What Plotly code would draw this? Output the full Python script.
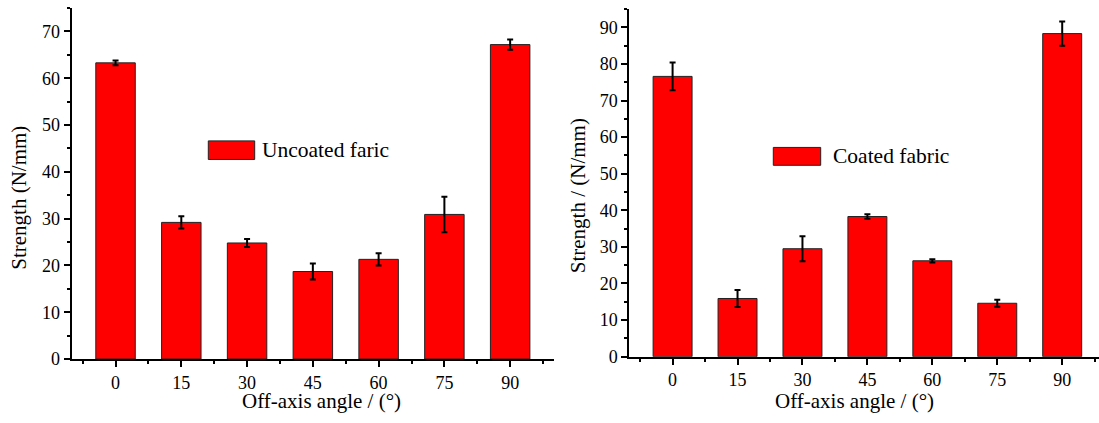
import plotly.graph_objects as go

# ---- data ----
angles = [0, 15, 30, 45, 60, 75, 90]
uncoated_strength = [63.3, 29.2, 24.8, 18.7, 21.3, 30.9, 67.2]
uncoated_err = [0.5, 1.3, 0.85, 1.7, 1.3, 3.8, 1.1]
coated_strength = [76.6, 15.9, 29.5, 38.3, 26.2, 14.6, 88.3]
coated_err = [3.8, 2.3, 3.4, 0.6, 0.45, 0.95, 3.3]
tick_labels = ["0", "15", "30", "45", "60", "75", "90"]
legend_left = "Uncoated faric"
legend_right = "Coated fabric"

W, H = 1099, 423
FONT = "Liberation Serif, Times New Roman, serif"


def px(x):
    return x / W


def py(y):
    return 1 - y / H


fig = go.Figure()

err_style = dict(type="data", thickness=2, width=3, color="black")

fig.add_trace(go.Bar(
    x=angles, y=uncoated_strength, width=9,
    error_y=dict(array=uncoated_err, **err_style),
    marker=dict(color="#FF0000", line=dict(color="#222222", width=1)),
    xaxis="x", yaxis="y", showlegend=False,
))
fig.add_trace(go.Bar(
    x=angles, y=coated_strength, width=9,
    error_y=dict(array=coated_err, **err_style),
    marker=dict(color="#FF0000", line=dict(color="#222222", width=1)),
    xaxis="x2", yaxis="y2", showlegend=False,
))

common_x = dict(
    tickmode="array", tickvals=angles, ticktext=tick_labels,
    ticks="outside", ticklen=6, tickwidth=2, tickcolor="black",
    showline=True, linewidth=2, linecolor="black",
    showgrid=False, zeroline=False,
    tickfont=dict(family=FONT, size=18, color="black"),
    minor=dict(ticks="outside", ticklen=3, tickwidth=2, tickcolor="black",
               dtick=7.5, tick0=0, showgrid=False),
)
common_y = dict(
    ticks="outside", ticklen=6, tickwidth=2, tickcolor="black",
    showline=True, linewidth=2, linecolor="black",
    showgrid=False, zeroline=False, dtick=10,
    tickfont=dict(family=FONT, size=18, color="black"),
    minor=dict(ticks="outside", ticklen=3, tickwidth=2, tickcolor="black",
               dtick=5, showgrid=False),
)

fig.update_layout(
    width=W, height=H,
    margin=dict(l=0, r=0, t=0, b=0),
    paper_bgcolor="white", plot_bgcolor="white",
    font=dict(family=FONT, color="black"),
    xaxis=dict(domain=[px(71.7), px(554)], range=[-10, 100], anchor="y", **common_x),
    yaxis=dict(domain=[py(367.7), py(8.3)], range=[0, 75], anchor="x", **common_y),
    xaxis2=dict(domain=[px(629.3), 1.0], range=[-10, 98.5], anchor="y2", **common_x),
    yaxis2=dict(domain=[py(365.3), py(9.3)], range=[0, 95], anchor="x2", **common_y),
)

# legend boxes drawn manually (Origin-style wide swatch)
shapes = [
    dict(type="rect", xref="paper", yref="paper",
         x0=px(208.3), x1=px(254.7), y0=py(163.3), y1=py(144.3),
         fillcolor="#FF0000", line=dict(color="#222222", width=1)),
    dict(type="rect", xref="paper", yref="paper",
         x0=px(773.3), x1=px(820.7), y0=py(169.3), y1=py(151),
         fillcolor="#FF0000", line=dict(color="#222222", width=1)),
]
fig.update_layout(shapes=shapes)

ann_font = dict(family=FONT, size=21, color="black")
leg_font = dict(family=FONT, size=21.5, color="black")
annotations = [
    dict(text=legend_left, x=px(259.5), y=py(154), xref="paper", yref="paper",
         xanchor="left", yanchor="middle", showarrow=False, font=leg_font),
    dict(text=legend_right, x=px(831), y=py(160), xref="paper", yref="paper",
         xanchor="left", yanchor="middle", showarrow=False, font=leg_font),
    dict(text="Off-axis angle / (°)", x=px(321), y=py(410.5), xref="paper", yref="paper",
         xanchor="center", yanchor="middle", showarrow=False, font=ann_font),
    dict(text="Off-axis angle / (°)", x=px(854.5), y=py(410.5), xref="paper", yref="paper",
         xanchor="center", yanchor="middle", showarrow=False, font=ann_font),
    dict(text="Strength (N/mm)", x=px(19), y=py(202.5), xref="paper", yref="paper",
         xanchor="center", yanchor="middle", showarrow=False, textangle=-90, font=ann_font),
    dict(text="Strength / (N/mm)", x=px(578), y=py(201), xref="paper", yref="paper",
         xanchor="center", yanchor="middle", showarrow=False, textangle=-90, font=ann_font),
]
fig.update_layout(annotations=annotations)

# pin the figure to the window's top-left corner (no page margin, no extra page height)
pin_js = (
    "var gd=document.getElementById('{plot_id}');"
    "document.documentElement.style.margin='0';"
    "document.documentElement.style.overflow='hidden';"
    "document.body.style.margin='0';"
    "document.body.style.overflow='hidden';"
    "gd.style.position='fixed';gd.style.left='0px';gd.style.top='0px';"
)
fig.write_html(
    "out.html",
    config={"displayModeBar": False, "staticPlot": True},
    post_script=pin_js,
)
